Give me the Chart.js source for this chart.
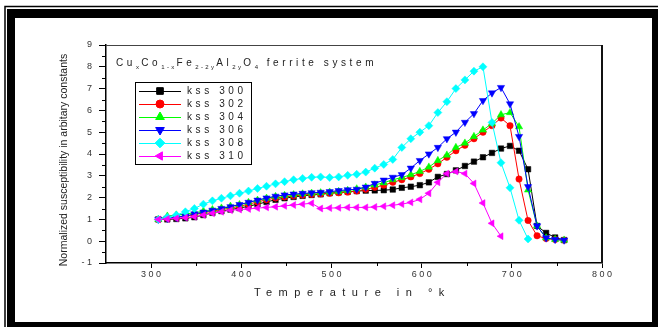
<!DOCTYPE html>
<html>
<head>
<meta charset="utf-8">
<script src="https://cdn.jsdelivr.net/npm/chart.js@4.4.0/dist/chart.umd.min.js"></script>
<style>
    html, body { margin: 0; padding: 0; background: #ffffff; }
    canvas { display: block; }
</style>
</head>
<body>
<canvas id="ChartCanvas" width="658" height="327"></canvas>
<script>
// Temperatures (K) shared by all series
const temperatures = [308, 318, 328, 338, 348, 358, 368, 378, 388, 398,
                      408, 418, 428, 438, 448, 458, 468, 478, 488, 498,
                      508, 518, 528, 538, 548, 558, 568, 578, 588, 598,
                      608, 618, 628, 638, 648, 658, 668, 678, 688, 698,
                      708, 718, 728, 738, 748, 758];

// Normalized susceptibility, one list per sample
const kss300 = [1.0, 1.0, 1.02, 1.05, 1.1, 1.2, 1.3, 1.38, 1.45, 1.52,
                1.6, 1.7, 1.8, 1.9, 1.97, 2.03, 2.08, 2.12, 2.15, 2.2,
                2.24, 2.27, 2.3, 2.32, 2.33, 2.34, 2.37, 2.45, 2.5, 2.57,
                2.7, 2.95, 3.08, 3.25, 3.45, 3.65, 3.85, 4.05, 4.25, 4.37,
                4.15, 3.3, 0.7, 0.38, 0.17, 0.05];
const kss302 = [1.0, 1.05, 1.1, 1.15, 1.22, 1.3, 1.38, 1.45, 1.52, 1.6,
                1.7, 1.8, 1.9, 1.98, 2.03, 2.08, 2.12, 2.15, 2.17, 2.2,
                2.22, 2.25, 2.3, 2.38, 2.47, 2.57, 2.7, 2.82, 2.95, 3.1,
                3.3, 3.55, 3.85, 4.15, 4.4, 4.7, 5.0, 5.3, 5.65, 5.3,
                2.85, 0.95, 0.25, 0.12, 0.08, 0.05];
const kss304 = [1.0, 1.15, 1.2, 1.25, 1.3, 1.38, 1.45, 1.52, 1.6, 1.68,
                1.78, 1.88, 1.97, 2.05, 2.1, 2.13, 2.17, 2.2, 2.22, 2.25,
                2.28, 2.33, 2.4, 2.48, 2.58, 2.68, 2.82, 2.92, 3.05, 3.2,
                3.4, 3.7, 3.95, 4.3, 4.5, 4.8, 5.1, 5.4, 5.8, 5.9,
                5.25, 2.35, 0.7, 0.15, 0.08, 0.05];
const kss306 = [1.0, 1.05, 1.1, 1.15, 1.25, 1.33, 1.42, 1.5, 1.58, 1.68,
                1.78, 1.88, 1.98, 2.06, 2.12, 2.16, 2.19, 2.22, 2.24, 2.27,
                2.32, 2.36, 2.38, 2.48, 2.65, 2.8, 2.93, 3.05, 3.35, 3.7,
                4.0, 4.3, 4.7, 5.0, 5.45, 5.85, 6.45, 6.8, 7.05, 6.3,
                4.8, 2.5, 0.7, 0.15, 0.08, 0.05];
const kss308 = [1.0, 1.1, 1.2, 1.35, 1.5, 1.7, 1.85, 1.97, 2.08, 2.2,
                2.3, 2.42, 2.52, 2.63, 2.73, 2.82, 2.88, 2.93, 2.95, 2.92,
                2.95, 3.02, 3.07, 3.17, 3.35, 3.52, 3.75, 4.3, 4.7, 5.0,
                5.3, 5.9, 6.4, 7.0, 7.4, 7.8, 8.0, 5.45, 3.6, 2.45,
                0.96, 0.1];
const kss310 = [1.0, 1.02, 1.05, 1.08, 1.12, 1.2, 1.28, 1.35, 1.42, 1.45,
                1.48, 1.52, 1.55, 1.58, 1.62, 1.66, 1.7, 1.74, 1.5, 1.52,
                1.53, 1.55, 1.55, 1.55, 1.57, 1.6, 1.65, 1.7, 1.78, 1.92,
                2.2, 2.7, 3.1, 3.2, 3.1, 2.65, 1.75, 0.82, 0.23];

const seriesNames = ['kss 300', 'kss 302', 'kss 304', 'kss 306', 'kss 308', 'kss 310'];
const seriesValues = [kss300, kss302, kss304, kss306, kss308, kss310];
const seriesColors = ['#000000', '#ff0000', '#00ff00', '#0000ff', '#00ffff', '#ff00ff'];
const seriesMarkers = ['rect', 'circle', 'triangle', 'triangle', 'rectRot', 'triangle'];
const seriesRotations = [0, 0, 0, 180, 0, -90];
const seriesRadius = [3.9, 3.2, 4.2, 4.2, 4.0, 4.0];

const xTickValues = [300, 400, 500, 600, 700, 800];
const xMinorValues = [350, 450, 550, 650, 750];
const yTickValues = [-1, 0, 1, 2, 3, 4, 5, 6, 7, 8, 9];
const yMinorValues = [-0.5, 0.5, 1.5, 2.5, 3.5, 4.5, 5.5, 6.5, 7.5, 8.5];

const xTitle = 'Temperature in °k';
const yTitle = 'Normalized susceptibility in arbitary constants';

Initialize();

function Initialize()
{
    const canvas = document.getElementById('ChartCanvas');
    const ctx = canvas.getContext('2d');
    const fontFamily = 'Arial, "Liberation Sans", sans-serif';

    // Spread the digits out like the original plot does
    const spaced = v => String(v).split('').join(' ');

    const datasets = seriesValues.map((values, i) => ({
        label: seriesNames[i],
        data: values.map((v, j) => ({ x: temperatures[j], y: v })),
        borderColor: seriesColors[i],
        backgroundColor: seriesColors[i],
        borderWidth: 1,
        pointStyle: seriesMarkers[i],
        pointRotation: seriesRotations[i],
        pointRadius: seriesRadius[i],
        pointBorderWidth: 0.5,
        pointBackgroundColor: seriesColors[i],
        pointBorderColor: seriesColors[i],
        showLine: true,
        tension: 0,
        order: seriesValues.length - i
    }));

    // White page with the heavy black frame
    const framePlugin = {
        id: 'frame',
        beforeDraw(chart) {
            const c = chart.ctx;
            c.save();
            c.fillStyle = '#ffffff';
            c.fillRect(0, 0, chart.width, chart.height);
            c.strokeStyle = '#000000';
            c.lineWidth = 1.5;
            c.beginPath();
            c.moveTo(5, chart.height);
            c.lineTo(5, 6.5);
            c.lineTo(chart.width, 6.5);
            c.stroke();
            c.fillStyle = '#000000';
            c.fillRect(7, 9, chart.width - 7, 9);          // top
            c.fillRect(7, 9, 8, chart.height - 9);         // left
            c.fillRect(652, 9, chart.width - 652, chart.height - 9); // right
            c.fillRect(7, 322, chart.width - 7, chart.height - 322); // bottom
            c.restore();
        }
    };

    // Box, minor ticks, titles and the inset legend
    const decorPlugin = {
        id: 'decor',
        afterDraw(chart) {
            const c = chart.ctx;
            const area = chart.chartArea;
            const xs = chart.scales.x;
            const ys = chart.scales.y;
            c.save();

            // top and right frame of the plot
            c.strokeStyle = '#444444';
            c.lineWidth = 1;
            c.beginPath();
            c.moveTo(area.left, area.top + 0.5);
            c.lineTo(area.right, area.top + 0.5);
            c.stroke();
            c.strokeStyle = '#111111';
            c.lineWidth = 2;
            c.beginPath();
            c.moveTo(area.right, area.top);
            c.lineTo(area.right, area.bottom);
            c.stroke();

            // minor ticks
            c.strokeStyle = '#000000';
            c.lineWidth = 1;
            c.beginPath();
            xMinorValues.forEach(v => {
                const px = Math.round(xs.getPixelForValue(v)) + 0.5;
                c.moveTo(px, area.bottom);
                c.lineTo(px, area.bottom + 3);
            });
            yMinorValues.forEach(v => {
                const py = Math.round(ys.getPixelForValue(v)) + 0.5;
                c.moveTo(area.left, py);
                c.lineTo(area.left - 4, py);
            });
            c.stroke();

            // axis titles
            c.fillStyle = '#222222';
            c.font = '10.5px ' + fontFamily;
            c.textAlign = 'center';
            c.textBaseline = 'middle';
            c.save();
            c.translate(64, 160);
            c.rotate(-Math.PI / 2);
            c.fillText(yTitle, 0, 0);
            c.restore();

            c.font = '11px ' + fontFamily;
            c.textAlign = 'left';
            c.letterSpacing = '6.5px';
            c.fillText(xTitle, 254, 293);

            // chart title with subscripts
            const titleParts = [
                ['Cu', false], ['x', true], ['Co', false], ['1-x', true],
                ['Fe', false], ['2-2y', true], ['Al', false], ['2y', true],
                ['O', false], ['4', true], [' ferrite system', false]
            ];
            let tx = 116;
            const ty = 66;
            c.textBaseline = 'alphabetic';
            titleParts.forEach(([text, sub]) => {
                c.font = (sub ? '6px ' : '10px ') + fontFamily;
                c.letterSpacing = sub ? '2.3px' : '3.6px';
                c.fillText(text, tx, sub ? ty + 3 : ty);
                tx += c.measureText(text).width;
            });

            // legend
            c.letterSpacing = '0px';
            c.strokeStyle = '#000000';
            c.lineWidth = 1;
            c.strokeRect(135.5, 82.5, 116, 82);
            chart.data.datasets.forEach((ds, i) => {
                const ly = 91 + i * 13;
                c.strokeStyle = ds.borderColor;
                c.lineWidth = 1;
                c.beginPath();
                c.moveTo(139, ly + 0.5);
                c.lineTo(181, ly + 0.5);
                c.stroke();
                c.fillStyle = ds.borderColor;
                Chart.helpers.drawPoint(c, {
                    pointStyle: ds.pointStyle,
                    rotation: ds.pointRotation,
                    radius: ds.pointRadius + 0.8,
                    borderWidth: 0.5
                }, 160, ly);
                c.fillStyle = '#222222';
                c.font = '10px ' + fontFamily;
                c.letterSpacing = '3.6px';
                c.textBaseline = 'middle';
                c.fillText(ds.label, 187, ly + 0.5);
                c.letterSpacing = '0px';
            });

            c.restore();
        }
    };

    const chart = new Chart(ctx, {
        type: 'scatter',
        data: { datasets: datasets },
        options: {
            responsive: false,
            animation: false,
            layout: { padding: { left: 0, right: 56, top: 45, bottom: 0 } },
            plugins: {
                legend: { display: false },
                tooltip: { enabled: false }
            },
            scales: {
                x: {
                    type: 'linear',
                    min: 250,
                    max: 800,
                    afterBuildTicks: scale => { scale.ticks = xTickValues.map(v => ({ value: v })); },
                    afterFit: scale => { scale.height = 64; },
                    border: { display: true, color: '#000000', width: 1.5 },
                    grid: { drawOnChartArea: false, drawTicks: true, tickLength: 5, tickColor: '#000000', tickWidth: 1 },
                    ticks: {
                        padding: 1,
                        color: '#333333',
                        font: { family: fontFamily, size: 9 },
                        maxRotation: 0,
                        callback: v => spaced(v)
                    }
                },
                y: {
                    type: 'linear',
                    min: -1,
                    max: 9,
                    afterBuildTicks: scale => { scale.ticks = yTickValues.map(v => ({ value: v })); },
                    afterFit: scale => { scale.width = 106; },
                    border: { display: true, color: '#000000', width: 1.5 },
                    grid: { drawOnChartArea: false, drawTicks: true, tickLength: 7, tickColor: '#000000', tickWidth: 1 },
                    ticks: {
                        padding: 7,
                        color: '#333333',
                        font: { family: fontFamily, size: 9 },
                        callback: v => spaced(v)
                    }
                }
            }
        },
        plugins: [framePlugin, decorPlugin]
    });
}
</script>
</body>
</html>
